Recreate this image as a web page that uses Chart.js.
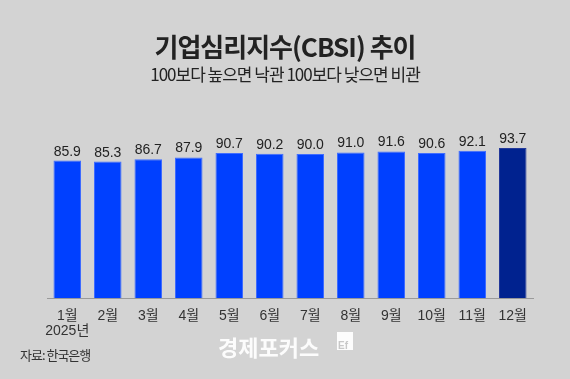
<!DOCTYPE html>
<html><head><meta charset="utf-8">
<script src="https://cdn.jsdelivr.net/npm/chart.js@4"></script>
<style>
html,body{margin:0;padding:0;background:#d3d3d3;}
#wrap{position:relative;width:570px;height:379px;}
canvas{display:block;}
</style></head>
<body><div id="wrap"><canvas id="c" width="570" height="379"></canvas></div>
<script>
const categories = ['1월','2월','3월','4월','5월','6월','7월','8월','9월','10월','11월','12월'];
const yearLabel = '2025년';
const values = [85.9, 85.3, 86.7, 87.9, 90.7, 90.2, 90.0, 91.0, 91.6, 90.6, 92.1, 93.7];
const titleText = '기업심리지수(CBSI) 추이';
const subtitleText = '100보다 높으면 낙관 100보다 낮으면 비관';
const sourceText = '자료: 한국은행';
const brandText = '경제포커스';

const barColors = values.map((v,i)=> i===values.length-1 ? '#00228f' : '#0040ff');
const borderColors = values.map((v,i)=> i===values.length-1 ? '#23399a' : '#3f6cff');
const labels = categories.map((c,i)=> i===0 ? [c, yearLabel] : c);

const deco = {
  id:'deco',
  beforeDraw(chart){
    const ctx = chart.ctx;
    ctx.save();
    ctx.fillStyle = '#d3d3d3';
    ctx.fillRect(0,0,chart.width,chart.height);
    ctx.restore();
  },
  afterDraw(chart){
    const ctx = chart.ctx;
    ctx.save();
    ctx.textAlign='center';
    ctx.textBaseline='alphabetic';
    ctx.fillStyle='#222';
    ctx.font='bold 26px "Noto Sans CJK KR"';
    ctx.letterSpacing='-1px';
    ctx.fillText(titleText, 285, 57);
    ctx.font='17px "Noto Sans CJK KR"';
    ctx.letterSpacing='-1px';
    ctx.fillText(subtitleText, 285, 81);
    ctx.letterSpacing='0px';
    // value labels
    const meta = chart.getDatasetMeta(0);
    ctx.font='14px "Liberation Sans", "Noto Sans CJK KR"';
    ctx.fillStyle='#222';
    meta.data.forEach((bar,i)=>{
      ctx.fillText(values[i].toFixed(1), bar.x, bar.y-5);
    });
    // source
    ctx.textAlign='left';
    ctx.font='13px "Noto Sans CJK KR"';
    ctx.letterSpacing='-1px';
    ctx.fillStyle='#333';
    ctx.fillText(sourceText, 20, 360);
    // brand
    ctx.font='bold 22px "Noto Sans CJK KR"';
    ctx.fillStyle='rgba(255,255,255,0.93)';
    ctx.letterSpacing='0px';
    ctx.fillText(brandText, 218, 356);
    ctx.fillRect(337,332,16,18);
    ctx.fillStyle='#c8c8c8';
    ctx.font='bold 10px "Liberation Sans"';
    ctx.fillText('Ef', 338, 349);
    ctx.restore();
  }
};

new Chart(document.getElementById('c'), {
  type:'bar',
  data:{labels, datasets:[{data:values, backgroundColor:barColors, borderColor:borderColors, borderWidth:1, categoryPercentage:0.68, barPercentage:1}]},
  options:{
    responsive:false, animation:false, devicePixelRatio:1,
    layout:{padding:{left:47,right:37,top:138,bottom:30}},
    plugins:{legend:{display:false}, tooltip:{enabled:false}},
    scales:{
      y:{display:false, min:0, max:100},
      x:{
        grid:{display:false, drawTicks:false},
        border:{display:true, color:'#9a9a9a', width:1},
        ticks:{color:'#333', font:{family:'"Liberation Sans", "Noto Sans CJK KR"', size:14, lineHeight:1.1}, padding:10, maxRotation:0, autoSkip:false}
      }
    }
  },
  plugins:[deco]
});
</script></body></html>
